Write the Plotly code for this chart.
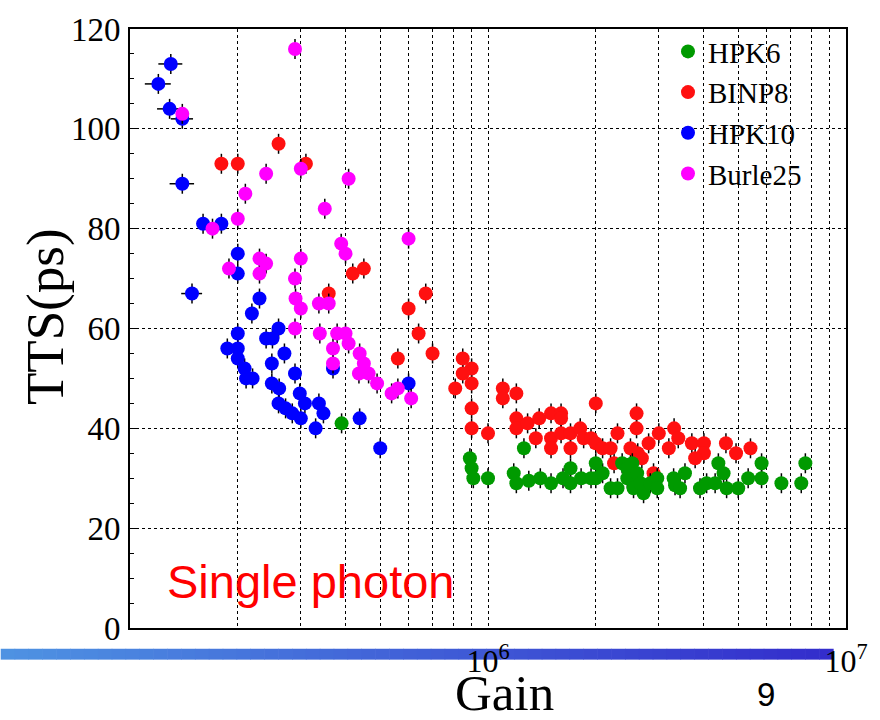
import plotly.graph_objects as go

# ---------------- data ----------------
hpk6_gain = [3.90e5, 8.90e5, 9.00e5, 9.10e5, 1.00e6, 1.26e6, 1.18e6, 1.20e6, 1.30e6, 1.40e6,
             1.50e6, 1.62e6, 1.70e6, 1.70e6, 1.82e6, 1.94e6, 2.00e6, 2.00e6, 2.09e6, 2.20e6,
             2.37e6, 2.53e6, 2.30e6, 2.45e6, 2.45e6, 2.55e6, 2.61e6, 2.72e6, 2.55e6, 2.67e6,
             2.84e6, 2.97e6, 2.97e6, 3.30e6, 3.33e6, 3.44e6, 3.55e6, 3.91e6, 4.08e6, 4.31e6,
             4.40e6, 4.55e6, 4.64e6, 5.00e6, 5.33e6, 5.81e6, 5.81e6, 6.60e6, 7.50e6, 7.70e6]
hpk6_tts = [41, 34, 32, 30, 30, 36, 31, 29, 29.5, 30,
            29, 30, 32, 29, 30, 30, 33, 30, 31, 28,
            33, 33, 28, 32, 30, 29.6, 31, 27, 28, 29,
            29, 30, 28, 30, 28.6, 28, 31, 28, 29, 29,
            33, 31, 28, 28, 30, 33, 30, 29, 29, 33]

binp8_gain = [1.80e5, 2.00e5, 2.60e5, 3.10e5, 4.19e5, 4.50e5, 3.59e5, 6.70e5, 6.00e5, 6.40e5,
              5.60e5, 7.00e5, 8.50e5, 9.00e5, 8.50e5, 9.00e5, 8.10e5, 1.10e6, 1.10e6, 1.20e6,
              9.00e5, 2.00e6, 1.20e6, 1.20e6, 1.29e6, 1.39e6, 1.50e6, 1.60e6, 1.60e6, 9.00e5,
              1.00e6, 1.36e6, 1.50e6, 1.50e6, 1.60e6, 1.70e6, 1.81e6, 1.70e6, 1.85e6, 1.94e6,
              2.00e6, 2.09e6, 2.20e6, 2.30e6, 2.60e6, 2.60e6, 2.25e6, 2.50e6, 3.00e6, 3.31e6,
              3.40e6, 2.81e6, 2.62e6, 2.69e6, 3.20e6, 3.71e6, 4.01e6, 4.01e6, 3.79e6, 4.62e6,
              4.93e6, 5.41e6, 2.90e6]
binp8_tts = [93, 93, 97, 93, 71, 72, 67, 67, 64, 59,
             54, 55, 54, 52, 51, 49, 48, 48, 46, 47,
             44, 45, 42, 40, 41, 42, 43, 43, 42, 40,
             39, 38, 38, 36, 39, 39, 40, 36, 38, 38,
             37, 36, 36, 39, 43, 40, 33, 36, 39, 40,
             38, 37, 35, 34, 36, 37, 37, 35, 34, 37,
             35, 36, 31]

hpk10_gain = [1.30e5, 1.20e5, 1.29e5, 1.40e5, 1.40e5, 1.60e5, 1.80e5, 2.00e5, 2.00e5, 1.49e5,
              2.30e5, 2.19e5, 2.00e5, 2.60e5, 2.40e5, 2.50e5, 1.87e5, 2.00e5, 2.70e5, 2.00e5,
              2.49e5, 2.09e5, 2.89e5, 2.11e5, 2.20e5, 2.49e5, 2.61e5, 2.98e5, 2.60e5, 2.72e5,
              3.08e5, 3.37e5, 2.84e5, 3.00e5, 3.47e5, 3.30e5, 4.38e5, 5.00e5, 6.00e5, 3.69e5]
hpk10_tts = [113, 109, 104, 102, 89, 81, 81, 75, 71, 67,
             66, 63, 59, 60, 58, 58, 56, 56, 55, 54,
             53, 52, 51, 50, 50, 49, 48, 47, 45, 44,
             45, 45, 43, 42, 43, 40, 42, 36, 49, 52]
hpk10_gain_err = [1.0e4, 1.0e4, 1.0e4, 1.0e4, 1.1e4, 0, 0, 0, 0, 1.0e4,
                  0, 0, 0, 0, 0, 0, 0, 0, 0, 0,
                  0, 0, 0, 0, 0, 0, 0, 0, 0, 0,
                  0, 0, 0, 0, 0, 0, 0, 0, 0, 0]

burle25_gain = [1.40e5, 2.89e5, 2.40e5, 3.00e5, 4.08e5, 2.10e5, 3.50e5, 2.00e5, 1.70e5, 3.89e5,
                4.00e5, 1.89e5, 2.30e5, 2.40e5, 2.30e5, 3.00e5, 2.89e5, 2.90e5, 3.37e5, 3.59e5,
                3.00e5, 2.89e5, 3.39e5, 3.79e5, 4.00e5, 4.08e5, 3.69e5, 4.38e5, 4.50e5, 3.69e5,
                4.36e5, 4.64e5, 4.90e5, 5.38e5, 5.60e5, 6.10e5, 6.00e5]
burle25_tts = [103, 116, 91, 92, 90, 87, 84, 82, 80, 77,
               75, 72, 74, 73, 71, 74, 70, 66, 65, 65,
               64, 60, 59, 59, 59, 57, 56, 55, 53, 53,
               51, 51, 49, 47, 48, 46, 78]

tts_err = 2.0  # ps, vertical error bar half-length

x_tick_vals = [2e5, 3e5, 4e5, 5e5, 6e5, 7e5, 8e5, 9e5, 1e6,
               2e6, 3e6, 4e6, 5e6, 6e6, 7e6, 8e6, 9e6, 1e7]
x_tick_text = ["", "", "", "", "", "", "", "", "10<sup>6</sup>",
               "", "", "", "", "", "", "", "", "10<sup>7</sup>"]
y_tick_vals = [0, 20, 40, 60, 80, 100, 120]
y_tick_text = ["0", "20", "40", "60", "80", "100", "120"]

# ---------------- styles ----------------
SERIF = "Liberation Serif"
SANS = "Liberation Sans"
series = [
    ("BINP8", binp8_gain, binp8_tts, None, "#ff1010", 2),
    ("HPK6", hpk6_gain, hpk6_tts, None, "#009a00", 1),
    ("HPK10", hpk10_gain, hpk10_tts, hpk10_gain_err, "#0000ff", 3),
    ("Burle25", burle25_gain, burle25_tts, None, "#ff00ff", 4),
]

fig = go.Figure()
for name, gx, gy, gxe, col, rank in series:
    kw = {}
    if gxe is not None:
        kw["error_x"] = dict(type="data", array=gxe, color="black", thickness=1.5, width=0)
    fig.add_trace(go.Scatter(
        x=gx, y=gy, mode="markers", name=name, legendrank=rank,
        marker=dict(color=col, size=14, line=dict(width=0)),
        error_y=dict(type="constant", value=tts_err, color="black", thickness=1.5, width=0),
        **kw,
    ))

W, H = 880, 720
ML, MR, MT, MB = 130, 30, 22, 92
PW, PH = W - ML - MR, H - MT - MB


def px(xp):
    return (xp - ML) / PW


def py(yp):
    return (H - MB - yp) / PH


fig.update_layout(
    width=W, height=H,
    margin=dict(l=ML, r=MR, t=MT, b=MB, pad=0),
    paper_bgcolor="white", plot_bgcolor="white",
    showlegend=True,
    legend=dict(x=px(671), y=py(19), xanchor="left", yanchor="top",
                font=dict(family=SERIF, size=29, color="black"),
                bgcolor="rgba(0,0,0,0)", tracegroupgap=0, itemwidth=30),
    font=dict(family=SERIF, color="black"),
)

fig.update_xaxes(
    type="log", range=[5, 7],
    tickmode="array", tickvals=x_tick_vals, ticktext=x_tick_text,
    tickfont=dict(family=SERIF, size=32, color="black"),
    ticks="", ticklabelstandoff=4,
    showgrid=True, gridcolor="black", griddash="dot", gridwidth=1,
    showline=True, linecolor="black", linewidth=2, mirror=True,
    zeroline=False,
)
fig.update_yaxes(
    range=[0, 120],
    tickmode="array", tickvals=y_tick_vals, ticktext=y_tick_text,
    tickfont=dict(family=SERIF, size=33, color="black"),
    ticks="inside", ticklen=8, tickwidth=1, tickcolor="black",
    minor=dict(ticks="inside", ticklen=4, dtick=5, tickcolor="black", showgrid=False),
    ticklabelstandoff=1,
    showgrid=True, gridcolor="black", griddash="dot", gridwidth=1,
    showline=True, linecolor="black", linewidth=2, mirror=True,
    zeroline=False,
)

# blue gradient band under the plot (slide decoration)
n_seg = 60
x0p, x1p = 0, 837
c0, c1 = (78, 146, 226), (51, 45, 204)
shapes = []
for i in range(n_seg):
    t = i / (n_seg - 1)
    c = tuple(int(round(a + (b - a) * t)) for a, b in zip(c0, c1))
    xa = x0p + (x1p - x0p) * i / n_seg
    xb = x0p + (x1p - x0p) * (i + 1) / n_seg + 0.6
    shapes.append(dict(type="rect", xref="paper", yref="paper",
                       x0=px(xa), x1=px(xb), y0=py(660), y1=py(649),
                       fillcolor="rgb(%d,%d,%d)" % c, line=dict(width=0), layer="below"))
fig.update_layout(shapes=shapes)

annotations = [
    dict(text="TTS(ps)", x=px(45), y=py(313), xref="paper", yref="paper",
         textangle=-90, showarrow=False, xanchor="center", yanchor="middle",
         font=dict(family=SERIF, size=53, color="black")),
    dict(text="Gain", x=px(507), y=py(694), xref="paper", yref="paper",
         showarrow=False, xanchor="center", yanchor="middle",
         font=dict(family=SERIF, size=51, color="black")),
    dict(text="9", x=px(770), y=py(695), xref="paper", yref="paper",
         showarrow=False, xanchor="center", yanchor="middle",
         font=dict(family=SANS, size=33, color="black")),
    dict(text="Single photon", x=px(165), y=py(581), xref="paper", yref="paper",
         showarrow=False, xanchor="left", yanchor="middle",
         font=dict(family=SANS, size=47, color="#ff0000")),
]
fig.update_layout(annotations=annotations)

fig.write_html("out.html")
